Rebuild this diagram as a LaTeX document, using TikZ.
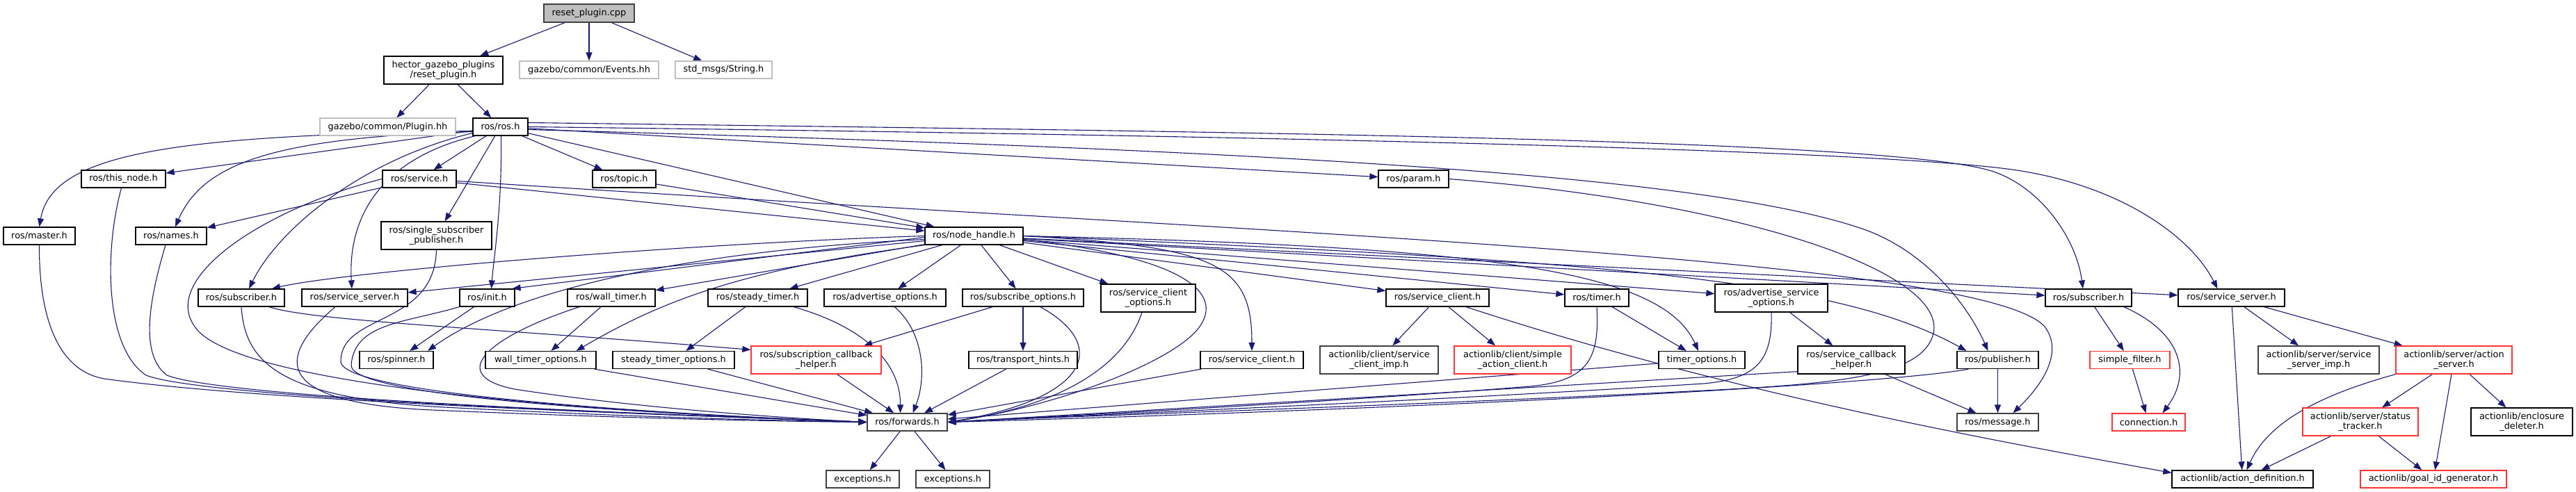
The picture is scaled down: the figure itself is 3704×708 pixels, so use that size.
\documentclass[tikz,border=0pt]{standalone}
\usepackage{fontspec}
\setmainfont{DejaVu Sans}
\usetikzlibrary{arrows.meta}
\definecolor{edgeblue}{HTML}{191970}
\definecolor{grayfill}{HTML}{BFBFBF}
\definecolor{grayline}{HTML}{BFBFBF}
\definecolor{darkline}{HTML}{404040}
\definecolor{redline}{HTML}{FF3333}
\pgfdeclarelayer{edgelayer}
\pgfsetlayers{edgelayer,main}
\begin{document}
\begin{tikzpicture}[x=1pt,y=-1pt,
  nd/.style={draw=black, line width=1.3pt, fill=white, inner sep=0pt, align=center, font=\fontsize{12.9}{14.7}\selectfont, text=black, minimum height=25pt},
  two/.style={minimum height=40pt},
  gr/.style={nd, draw=grayline},
  rd/.style={nd, draw=redline},
  rt/.style={nd, fill=grayfill, draw=darkline},
  e/.style={draw=edgeblue, line width=1.1pt, -{Triangle[length=12pt,width=9pt]}},
]
\useasboundingbox (0,0) rectangle (3704,708);
% row 0
\node[rt,minimum width=130pt,minimum height=26pt] (root) at (847,19) {reset\_plugin.cpp};
% row 1
\node[nd,two,minimum width=171pt] (hector) at (637.5,101) {hector\_gazebo\_plugins\\/reset\_plugin.h};
\node[gr,minimum width=200pt] (events) at (847,100.5) {gazebo/common/Events.hh};
\node[gr,minimum width=139pt] (string) at (1040.5,100.5) {std\_msgs/String.h};
% row 2
\node[gr,minimum width=195pt] (plugin) at (557.5,182.5) {gazebo/common/Plugin.hh};
\node[nd,minimum width=79pt] (ros) at (719.5,182.5) {ros/ros.h};
% row 3
\node[nd,minimum width=121pt] (thisnode) at (177.5,257.5) {ros/this\_node.h};
\node[nd,minimum width=106pt] (service) at (603,257.5) {ros/service.h};
\node[nd,minimum width=91pt] (topic) at (897.5,257.5) {ros/topic.h};
\node[nd,minimum width=101pt] (param) at (2032.5,257.5) {ros/param.h};
% row 4
\node[nd,minimum width=103pt] (master) at (56.5,339.5) {ros/master.h};
\node[nd,minimum width=102pt] (names) at (246,339.5) {ros/names.h};
\node[nd,two,minimum width=159pt] (singlesub) at (627.5,339) {ros/single\_subscriber\\\_publisher.h};
\node[nd,minimum width=141pt] (nodehandle) at (1400.5,339.5) {ros/node\_handle.h};
% row 5
\node[nd,minimum width=124pt] (subL) at (347,428.5) {ros/subscriber.h};
\node[nd,minimum width=152pt] (ssL) at (510,428.5) {ros/service\_server.h};
\node[nd,minimum width=79pt] (init) at (700.5,428.5) {ros/init.h};
\node[nd,minimum width=126pt] (walltimer) at (879,428.5) {ros/wall\_timer.h};
\node[nd,minimum width=143pt] (steadytimer) at (1089.5,428.5) {ros/steady\_timer.h};
\node[nd,minimum width=175pt] (advopts) at (1272.5,428.5) {ros/advertise\_options.h};
\node[nd,minimum width=174pt] (subopts) at (1471,428.5) {ros/subscribe\_options.h};
\node[nd,two,minimum width=136pt] (scopts) at (1651,429) {ros/service\_client\\\_options.h};
\node[nd,minimum width=148pt] (scU) at (2067,428.5) {ros/service\_client.h};
\node[nd,minimum width=92pt] (timer) at (2296,428.5) {ros/timer.h};
\node[nd,two,minimum width=162pt] (advsrvopts) at (2547,429) {ros/advertise\_service\\\_options.h};
\node[nd,minimum width=124pt] (subR) at (3003,428.5) {ros/subscriber.h};
\node[nd,minimum width=153pt] (ssR) at (3208.5,428.5) {ros/service\_server.h};
% row 6
\node[nd,minimum width=106pt] (spinner) at (570,518) {ros/spinner.h};
\node[nd,minimum width=159pt] (wallopts) at (777.5,518) {wall\_timer\_options.h};
\node[nd,minimum width=175pt] (steadyopts) at (968.5,518) {steady\_timer\_options.h};
\node[rd,two,minimum width=187pt] (subcb) at (1173.5,518) {ros/subscription\_callback\\\_helper.h};
\node[nd,minimum width=156pt] (transport) at (1471,518) {ros/transport\_hints.h};
\node[nd,minimum width=148pt] (scL) at (1800,518) {ros/service\_client.h};
\node[nd,two,minimum width=170pt,draw=darkline] (clientimp) at (1983,518) {actionlib/client/service\\\_client\_imp.h};
\node[rd,two,minimum width=168pt] (simpleac) at (2175,518) {actionlib/client/simple\\\_action\_client.h};
\node[nd,minimum width=124pt] (timeropts) at (2447,518) {timer\_options.h};
\node[nd,two,minimum width=154pt] (srvcb) at (2662,518) {ros/service\_callback\\\_helper.h};
\node[nd,minimum width=117pt] (publisher) at (2872.5,518) {ros/publisher.h};
\node[rd,minimum width=115pt] (simplefilter) at (3062.5,518) {simple\_filter.h};
\node[nd,two,minimum width=174pt,draw=darkline] (serverimp) at (3334,518) {actionlib/server/service\\\_server\_imp.h};
\node[rd,two,minimum width=167pt] (actionserver) at (3528.5,518) {actionlib/server/action\\\_server.h};
% row 7
\node[nd,minimum width=115pt,draw=darkline] (forwards) at (1304.5,607.5) {ros/forwards.h};
\node[nd,minimum width=117pt,draw=darkline] (message) at (2872.5,607.5) {ros/message.h};
\node[rd,minimum width=105pt] (connection) at (3089.5,607.5) {connection.h};
\node[rd,two,minimum width=166pt] (statustracker) at (3394,607) {actionlib/server/status\\\_tracker.h};
\node[nd,two,minimum width=146pt] (enclosure) at (3626,607) {actionlib/enclosure\\\_deleter.h};
% row 8
\node[nd,minimum width=105pt,draw=darkline] (excL) at (1240.5,689.5) {exceptions.h};
\node[nd,minimum width=106pt,draw=darkline] (excR) at (1370,689.5) {exceptions.h};
\node[nd,minimum width=203pt] (actiondef) at (3224.5,689.5) {actionlib/action\_definition.h};
\node[rd,minimum width=210pt] (goalid) at (3499,689.5) {actionlib/goal\_id\_generator.h};

\begin{pgfonlayer}{edgelayer}
% edges: top
\draw[e] (root) -- (hector);
\draw[e] (root) -- (events);
\draw[e] (root) -- (string);
\draw[e] (hector) -- (plugin);
\draw[e] (hector) -- (ros);
% ros.h
\draw[e] (ros) -- (service);
\draw[e] (ros) -- (topic);
\draw[e] (ros) -- (singlesub);
\draw[e] (ros) -- (nodehandle);
\draw[e] (ros) -- (param);
\draw[e] (ros) -- (thisnode);
\draw[e] ([xshift=1pt]ros.south) .. controls (722,300) and (710,370) .. ([xshift=6pt]init.north);
\draw[e] ([yshift=-6pt]ros.west) .. controls (250,195) and (75,220) .. (master.north);
\draw[e] ([yshift=-7pt]ros.west) .. controls (380,198) and (290,240) .. ([xshift=6pt]names.north);
\draw[e] ([yshift=-9pt]ros.west) .. controls (520,230) and (400,330) .. ([xshift=11pt]subL.north);
\draw[e] ([xshift=4pt]ros.south west) .. controls (540,230) and (500,320) .. ([xshift=-4pt]ssL.north);
\draw[e] ([yshift=6pt]ros.east) .. controls (1800,190) and (2700,200) .. (2860,245) .. controls (2930,265) and (2985,340) .. ([xshift=-8pt]subR.north);
\draw[e] (ros.east) .. controls (1800,195) and (2700,215) .. (2900,245) .. controls (3050,268) and (3150,340) .. ([xshift=-20pt]ssR.north);
\draw[e] ([yshift=-4pt]ros.east) .. controls (1800,215) and (2450,250) .. (2680,330) .. controls (2770,362) and (2830,440) .. ([xshift=-14pt]publisher.north);
% service.h, topic.h, param.h
\draw[e] (service) -- (names);
\draw[e] (service) -- (nodehandle);
\draw[e] (service.west) .. controls (380,300) and (230,400) .. (280,470) .. controls (340,560) and (900,595) .. (forwards.west);
\draw[e] ([yshift=-3pt]service.east) .. controls (1800,335) and (2850,370) .. (2940,470) .. controls (2970,510) and (2930,560) .. ([xshift=22pt]message.north);
\draw[e] (topic) -- (nodehandle);
\draw[e] (param.east) .. controls (2500,290) and (2800,390) .. (2780,480) .. controls (2765,540) and (2650,552) .. (2450,562) .. controls (2000,585) and (1500,600) .. (forwards.east);
% left column to forwards
\draw[e] (master.south) .. controls (56,470) and (90,535) .. (150,545) .. controls (400,580) and (1000,598) .. (forwards.west);
\draw[e] ([xshift=-3pt]thisnode.south) .. controls (150,360) and (150,500) .. (210,540) .. controls (300,575) and (1000,598) .. (forwards.west);
\draw[e] ([xshift=-8pt]names.south) .. controls (215,430) and (200,510) .. (240,540) .. controls (330,575) and (1000,598) .. (forwards.west);
\draw[e] (singlesub.south) .. controls (625,470) and (490,450) .. (490,520) .. controls (490,570) and (1000,598) .. (forwards.west);
\draw[e] (subL.south) .. controls (352,520) and (400,570) .. (620,585) .. controls (900,600) and (1100,605) .. (forwards.west);
\draw[e] ([xshift=40pt]subL.south) .. controls (450,462) and (700,472) .. ([yshift=-6pt]subcb.north west);
\draw[e] ([xshift=-28pt]ssL.south) .. controls (390,520) and (400,580) .. (620,590) .. controls (900,602) and (1100,606) .. (forwards.west);
\draw[e] (init) -- (spinner);
\draw[e] (init.south west) .. controls (580,465) and (510,465) .. (505,525) .. controls (500,575) and (1000,598) .. (forwards.west);
% node_handle.h
\draw[e] (nodehandle.west) .. controls (1000,350) and (500,390) .. ([xshift=44pt]subL.north);
\draw[e] (nodehandle) -- (ssL);
\draw[e] ([yshift=-2pt]nodehandle.west) -- ([xshift=-4pt]init.north east);
\draw[e] ([yshift=-5pt]nodehandle.west) .. controls (1000,360) and (740,415) .. ([xshift=45pt]spinner.north);
\draw[e] (nodehandle) -- (walltimer);
\draw[e] (walltimer) -- (wallopts);
\draw[e] ([xshift=-46pt]walltimer.south) .. controls (700,485) and (640,540) .. (740,560) .. controls (900,585) and (1100,600) .. (forwards.west);
\draw[e] (nodehandle.south west) .. controls (1050,390) and (940,440) .. ([xshift=51pt]wallopts.north);
\draw[e] (wallopts) -- (forwards);
\draw[e] (nodehandle) -- (steadytimer);
\draw[e] (steadytimer) -- (steadyopts);
\draw[e] (steadyopts) -- (forwards);
\draw[e] ([xshift=52pt]steadytimer.south) .. controls (1240,470) and (1295,520) .. ([xshift=-10pt]forwards.north);
\draw[e] (nodehandle) -- (advopts);
\draw[e] ([xshift=14pt]advopts.south) .. controls (1330,480) and (1332,545) .. ([xshift=8pt]forwards.north);
\draw[e] (nodehandle) -- (subopts);
\draw[e] (subopts) -- (subcb);
\draw[e] (subopts) -- (transport);
\draw[e] ([xshift=25pt]subopts.south) .. controls (1600,500) and (1560,575) .. (forwards.east);
\draw[e] (subcb) -- (forwards);
\draw[e] (transport) -- (forwards);
\draw[e] (nodehandle) -- (scopts);
\draw[e] ([xshift=-9pt]scopts.south) .. controls (1615,530) and (1520,585) .. (forwards.east);
\draw[e] (nodehandle.east) .. controls (1750,355) and (1800,380) .. (scL.north);
\draw[e] ([yshift=-5pt]nodehandle.east) .. controls (1700,370) and (1760,420) .. (1725,470) .. controls (1690,520) and (1520,585) .. (forwards.east);
\draw[e] (scL) -- (forwards);
\draw[e] (nodehandle) -- (scU);
\draw[e] (scU) -- (clientimp);
\draw[e] (scU) -- (simpleac);
\draw[e] ([xshift=41pt]scU.south) .. controls (2500,570) and (2900,640) .. ([yshift=-4pt]actiondef.north west);
\draw[e] (nodehandle) -- (timer);
\draw[e] (timer) -- (timeropts);
\draw[e] (timer.south) .. controls (2300,515) and (2285,548) .. (2200,556) .. controls (1900,580) and (1500,600) .. (forwards.east);
\draw[e] (timeropts) -- (forwards);
\draw[e] (nodehandle.east) .. controls (2150,355) and (2390,390) .. ([xshift=-5pt]timeropts.north);
\draw[e] (nodehandle) -- (advsrvopts);
\draw[e] (advsrvopts) -- (srvcb);
\draw[e] (advsrvopts.south) .. controls (2549,520) and (2525,545) .. (2450,552) .. controls (2000,580) and (1500,600) .. (forwards.east);
\draw[e] ([yshift=4pt]srvcb.south west) -- (forwards.east);
\draw[e] (srvcb) -- (message);
\draw[e] (nodehandle.east) .. controls (2300,375) and (2640,400) .. ([xshift=-45pt]publisher.north);
\draw[e] (publisher) -- (message);
\draw[e] ([xshift=-42pt]publisher.south) .. controls (2700,555) and (2000,590) .. (forwards.east);
\draw[e] (nodehandle) -- (subR);
\draw[e] (nodehandle) -- (ssR);
% right part
\draw[e] (subR) -- (simplefilter);
\draw[e] ([xshift=51pt]subR.south) .. controls (3140,480) and (3150,540) .. ([xshift=20pt]connection.north);
\draw[e] (simplefilter) -- (connection);
\draw[e] (ssR) -- (actiondef);
\draw[e] (ssR) -- (serverimp);
\draw[e] (ssR) -- (actionserver);
\draw[e] (actionserver.south west) .. controls (3330,570) and (3260,610) .. ([xshift=6pt]actiondef.north);
\draw[e] (actionserver) -- (statustracker);
\draw[e] (actionserver) -- (goalid);
\draw[e] (actionserver) -- (enclosure);
\draw[e] (statustracker) -- (actiondef);
\draw[e] (statustracker) -- (goalid);
\draw[e] (forwards) -- (excL);
\draw[e] (forwards) -- (excR);
\end{pgfonlayer}
\end{tikzpicture}
\end{document}
